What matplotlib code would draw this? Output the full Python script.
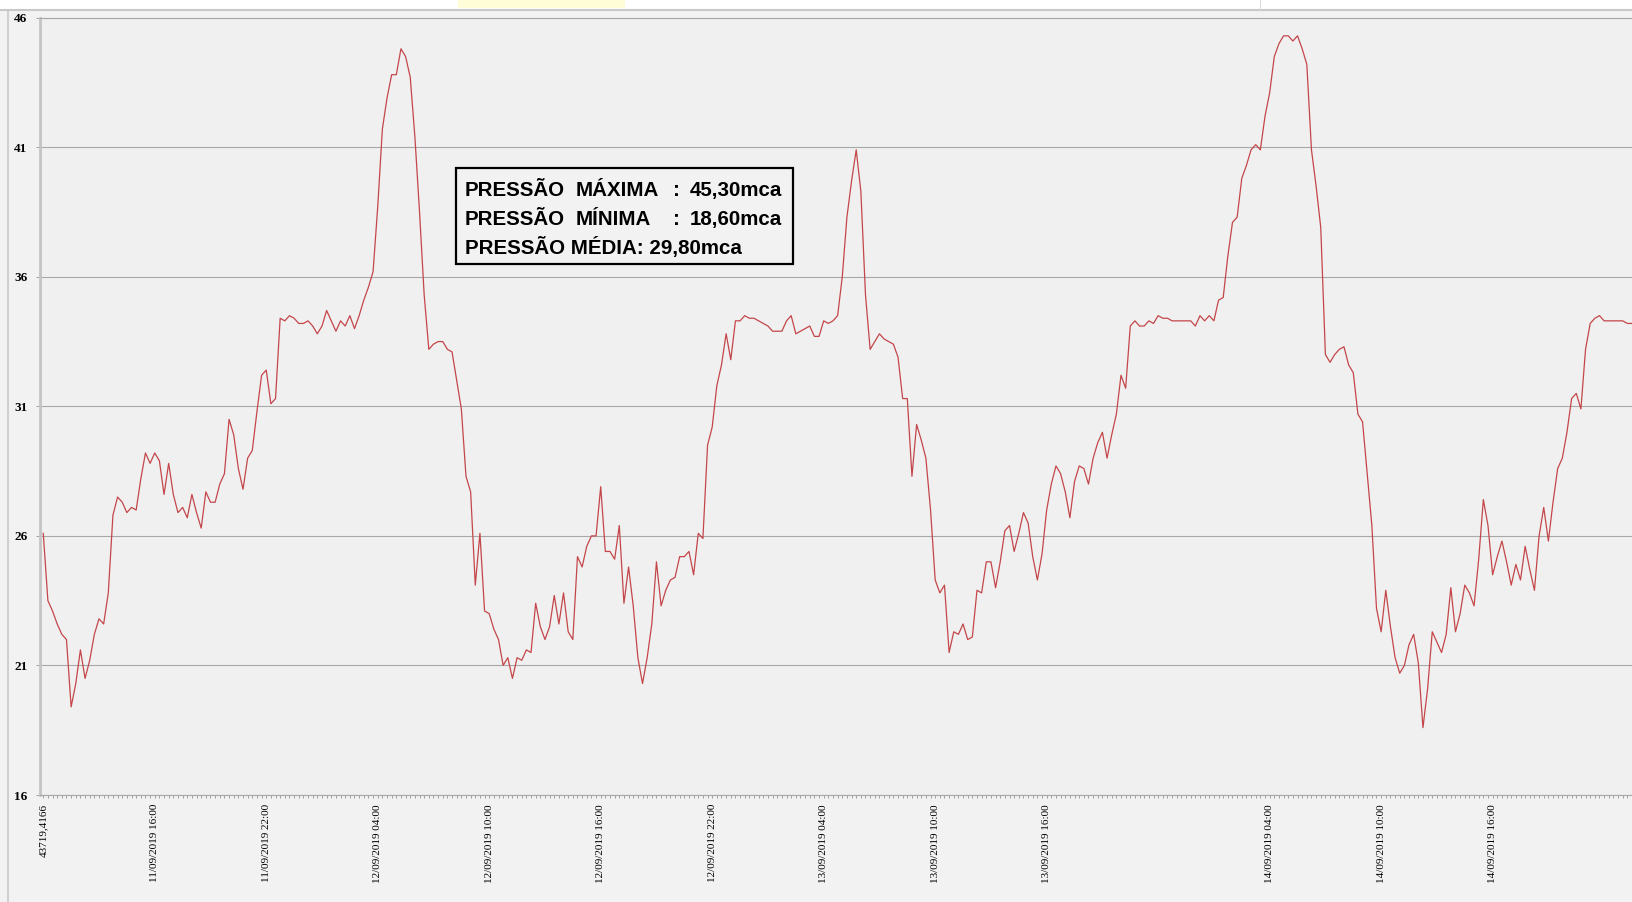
import matplotlib
matplotlib.use('Agg')
import matplotlib.pyplot as plt
from matplotlib.patches import Rectangle
from matplotlib.lines import Line2D
import numpy as np

# leituras de pressao (mca), uma a cada 15 min a partir de 11/09/2019 10:00
pressure_d1 = [26.1, 23.5, 23.1, 22.6, 22.2, 22.0, 19.4, 20.3, 21.6, 20.5,
               21.2, 22.2, 22.8, 22.6, 23.8, 26.8, 27.5, 27.3, 26.9, 27.1,
               27.0, 28.2, 29.2, 28.8, 29.2, 28.9, 27.6, 28.8, 27.6, 26.9,
               27.1, 26.7, 27.6, 26.9, 26.3, 27.7, 27.3, 27.3, 28.0, 28.4,
               30.5, 29.9, 28.6, 27.8, 29.0, 29.3, 30.8, 32.2, 32.4, 31.1,
               31.3, 34.4, 34.3, 34.5, 34.4, 34.2]
pressure_d2 = [34.2, 34.3, 34.1, 33.8, 34.1, 34.7, 34.3, 33.9, 34.3, 34.1,
               34.5, 34.0, 34.5, 35.1, 35.6, 36.2, 38.7, 41.7, 42.9, 43.8,
               43.8, 44.8, 44.5, 43.7, 41.4, 38.5, 35.3, 33.2, 33.4, 33.5,
               33.5, 33.2, 33.1, 32.0, 30.9, 28.3, 27.7, 24.1, 26.1, 23.1,
               23.0, 22.4, 22.0, 21.0, 21.3, 20.5, 21.3, 21.2, 21.6, 21.5,
               23.4, 22.5, 22.0, 22.5, 23.7, 22.6, 23.8, 22.3]
pressure_d3 = [22.0, 25.2, 24.8, 25.6, 26.0, 26.0, 27.9, 25.4, 25.4, 25.1,
               26.4, 23.4, 24.8, 23.3, 21.3, 20.3, 21.3, 22.6, 25.0, 23.3,
               23.9, 24.3, 24.4, 25.2, 25.2, 25.4, 24.5, 26.1, 25.9, 29.5,
               30.2, 31.8, 32.6, 33.8, 32.8, 34.3, 34.3, 34.5, 34.4, 34.4,
               34.3, 34.2, 34.1, 33.9, 33.9, 33.9, 34.3, 34.5, 33.8, 33.9,
               34.0, 34.1, 33.7, 33.7, 34.3, 34.2, 34.3, 34.5]
pressure_d4 = [36.0, 38.3, 39.7, 40.9, 39.3, 35.3, 33.2, 33.5, 33.8, 33.6,
               33.5, 33.4, 32.9, 31.3, 31.3, 28.3, 30.3, 29.7, 29.0, 27.0,
               24.3, 23.8, 24.1, 21.5, 22.3, 22.2, 22.6, 22.0, 22.1, 23.9,
               23.8, 25.0, 25.0, 24.0, 25.0, 26.2, 26.4, 25.4, 26.1, 26.9,
               26.5, 25.2, 24.3, 25.3, 27.0, 28.0, 28.7, 28.4, 27.7, 26.7,
               28.1, 28.7, 28.6, 28.0, 29.0, 29.6, 30.0, 29.0]
pressure_d5 = [29.9, 30.7, 32.2, 31.7, 34.1, 34.3, 34.1, 34.1, 34.3, 34.2,
               34.5, 34.4, 34.4, 34.3, 34.3, 34.3, 34.3, 34.3, 34.1, 34.5,
               34.3, 34.5, 34.3, 35.1, 35.2, 36.8, 38.1, 38.3, 39.8, 40.3,
               40.9, 41.1, 40.9, 42.2, 43.1, 44.5, 45.0, 45.3, 45.3, 45.1,
               45.3, 44.8, 44.2, 40.9, 39.5, 37.9, 33.0, 32.7, 33.0, 33.2,
               33.3, 32.6, 32.3, 30.7, 30.4, 28.4, 26.4, 23.2]
pressure_d6 = [22.3, 23.9, 22.5, 21.3, 20.7, 21.0, 21.8, 22.2, 21.1, 18.6,
               20.1, 22.3, 21.9, 21.5, 22.2, 24.0, 22.3, 23.0, 24.1, 23.8,
               23.3, 25.1, 27.4, 26.4, 24.5, 25.2, 25.8, 25.0, 24.1, 24.9,
               24.3, 25.6, 24.7, 23.9, 26.0, 27.1, 25.8, 27.3, 28.6, 29.0,
               30.0, 31.3, 31.5, 30.9, 33.2, 34.2, 34.4, 34.5, 34.3, 34.3,
               34.3, 34.3, 34.3, 34.2, 34.2]

# rotulos do eixo x (indice da leitura -> texto)
label_idx = [0, 24, 48, 72, 96, 120, 144, 168, 192, 216, 264, 288, 312]
label_txt = ['43719,4166',
             '11/09/2019 16:00', '11/09/2019 22:00',
             '12/09/2019 04:00', '12/09/2019 10:00', '12/09/2019 16:00', '12/09/2019 22:00',
             '13/09/2019 04:00', '13/09/2019 10:00', '13/09/2019 16:00',
             '14/09/2019 04:00', '14/09/2019 10:00', '14/09/2019 16:00']
y_ticks = [16, 21, 26, 31, 36, 41, 46]

info_max = ['PRESSÃO', 'MÁXIMA', ':', '45,30mca']
info_min = ['PRESSÃO', 'MÍNIMA', ':', '18,60mca']
info_avg = 'PRESSÃO MÉDIA: 29,80mca'

pressure = pressure_d1 + pressure_d2 + pressure_d3 + pressure_d4 + pressure_d5 + pressure_d6

W, H = 1632, 902
fig = plt.figure(figsize=(W / 100, H / 100), dpi=100, facecolor='#f2f2f2')

def fx(x):
    return x / W

def fy(y):
    return 1 - y / H

# moldura da captura de tela
fig.patches.append(Rectangle((0, fy(9)), 1, fy(0) - fy(9), transform=fig.transFigure,
                             facecolor='white', edgecolor='none'))
fig.patches.append(Rectangle((fx(458), fy(8)), fx(625) - fx(458), fy(0) - fy(8),
                             transform=fig.transFigure, facecolor='#fffcd8', edgecolor='none'))
fig.lines.append(Line2D([0, 1], [fy(10), fy(10)], transform=fig.transFigure,
                        color='#c8c8c8', lw=1.5))
fig.lines.append(Line2D([fx(1260), fx(1260)], [fy(0), fy(9)], transform=fig.transFigure,
                        color='#dcdcdc', lw=0.8))
fig.lines.append(Line2D([fx(8), fx(8)], [fy(11), 0], transform=fig.transFigure,
                        color='#c8c8c8', lw=1.2))

ax = fig.add_axes([fx(40), fy(795), 1 - fx(40), fy(17.7) - fy(795)])
ax.set_facecolor('#f0f0f0')

x = np.arange(len(pressure))
ax.plot(x, pressure, color='#c4464a', lw=0.9)

ax.set_xlim(-0.7, 341.7)
ax.set_ylim(16, 46)
ax.set_yticks(y_ticks)
ax.set_yticklabels([str(v) for v in y_ticks], fontfamily='Liberation Serif',
                   fontweight='bold', fontsize=9.5)
ax.yaxis.grid(True, color='#a8a8a8', lw=0.8)
ax.set_axisbelow(True)

ax.set_xticks(label_idx)
ax.set_xticklabels(label_txt, rotation=90, fontfamily='Liberation Serif', fontsize=8,
                   va='top', ha='center')
ax.set_xticks(x, minor=True)
ax.tick_params(axis='x', which='both', length=2.5, color='#a0a0a0', width=0.7, pad=4)
ax.tick_params(axis='y', length=3, color='#a0a0a0', width=0.7, pad=6)

ax.spines['right'].set_visible(False)
ax.spines['top'].set_color('#a8a8a8')
ax.spines['top'].set_linewidth(0.8)
ax.spines['bottom'].set_color('#a8a8a8')
ax.spines['bottom'].set_linewidth(0.8)
ax.spines['left'].set_color('#c4c4c4')
ax.spines['left'].set_linewidth(2)

# caixa de resumo
fig.patches.append(Rectangle((fx(456), fy(264)), fx(793) - fx(456), fy(168.5) - fy(264),
                             transform=fig.transFigure, facecolor='#f2f2f2',
                             edgecolor='black', lw=1.6, zorder=5))
kw = dict(fontfamily='Liberation Sans', fontweight='bold', fontsize=14.8,
          va='baseline', zorder=6)
for row, base in [(info_max, 195.6), (info_min, 224.7)]:
    fig.text(fx(465), fy(base), row[0], ha='left', **kw)
    fig.text(fx(576), fy(base), row[1], ha='left', **kw)
    fig.text(fx(676), fy(base), row[2], ha='center', **kw)
    fig.text(fx(782), fy(base), row[3], ha='right', **kw)
fig.text(fx(465), fy(253.9), info_avg, ha='left', **kw)

fig.savefig('out.png', dpi=100, facecolor=fig.get_facecolor())
